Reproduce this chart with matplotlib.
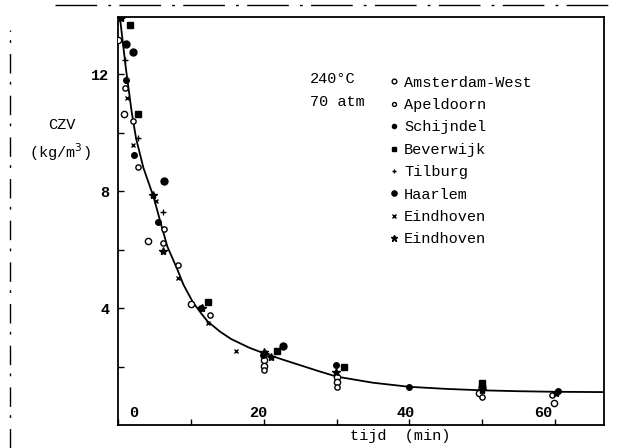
import numpy as np
import matplotlib
matplotlib.use('Agg')
from matplotlib import pyplot as plt
from matplotlib.lines import Line2D

plt.rcParams['font.family'] = ['Liberation Mono', 'DejaVu Sans Mono']

# data: tijd (min) vs CZV (kg/m3)
ams_t = [0.0, 0.8, 4.1, 10.0, 20.0, 20.0, 30.1, 30.1, 49.6, 59.9]
ams_v = [13.17, 10.65, 6.28, 4.13, 2.22, 2.01, 1.64, 1.47, 1.09, 0.75]

apel_t = [1.0, 2.05, 2.7, 6.2, 6.3, 8.2, 12.7, 20.0, 30.1, 50.0, 59.6]
apel_v = [11.54, 10.41, 8.84, 6.21, 6.69, 5.46, 3.75, 1.88, 1.30, 0.96, 1.02]

schij_t = [1.1, 2.2, 5.5, 11.4, 19.9, 29.9, 40.0, 60.4]
schij_v = [11.81, 9.22, 6.93, 3.99, 2.39, 2.05, 1.30, 1.16]

bever_t = [1.6, 2.7, 12.3, 21.8, 31.0, 49.9]
bever_v = [13.69, 10.65, 4.20, 2.52, 1.98, 1.43]

tilb_t = [1.0, 2.7, 6.2, 11.6, 20.3]
tilb_v = [12.49, 9.83, 7.30, 4.05, 2.45]

haar_t = [1.1, 2.05, 6.3, 22.7, 50.0]
haar_v = [13.04, 12.76, 8.33, 2.70, 1.30]

eind1_t = [1.2, 2.05, 5.2, 8.2, 12.3, 16.2]
eind1_v = [11.19, 9.56, 7.65, 5.02, 3.48, 2.53]

eind2_t = [0.4, 4.8, 6.2, 11.6, 20.0, 21.0, 29.9, 49.9, 60.1]
eind2_v = [13.92, 7.85, 5.94, 3.99, 2.49, 2.32, 1.81, 1.19, 1.09]

# hand drawn curve, read point by point
curve_t = [0.3, 1.1, 1.9, 2.5, 3.5, 4.9, 6.0, 6.8, 7.5, 8.2, 9.0, 10.3, 11.5, 12.3,
           14.0, 15.5, 18.0, 20.0, 22.5, 25.0, 27.5, 30.0, 35.0, 40.0, 45.0, 50.0,
           55.0, 60.0, 66.7]
curve_v = [13.9, 12.2, 10.7, 9.8, 8.8, 7.8, 6.8, 6.1, 5.7, 5.3, 4.8, 4.2, 3.8, 3.55,
           3.2, 2.95, 2.65, 2.46, 2.25, 2.05, 1.85, 1.66, 1.45, 1.31, 1.24, 1.19,
           1.16, 1.14, 1.13]

x_major = [0, 20, 40, 60]
x_labels = ['0', '20', '40', '60']
x_label_pos = [2.2, 19.3, 39.5, 58.4]

fig = plt.figure(figsize=(6.17, 4.48), dpi=100)
ax = fig.add_axes([0.191, 0.051, 0.788, 0.911])

ax.plot(curve_t, curve_v, color='black', lw=1.3, zorder=2)

k = dict(color='black', ls='none', zorder=3)
ax.plot(ams_t, ams_v, marker='o', mfc='white', mec='black', ms=4.5, mew=1, label='Amsterdam-West', **k)
ax.plot(apel_t, apel_v, marker='o', mfc='white', mec='black', ms=3.8, mew=1, label='Apeldoorn', **k)
ax.plot(schij_t, schij_v, marker='o', ms=4, label='Schijndel', **k)
ax.plot(bever_t, bever_v, marker='s', ms=4.5, label='Beverwijk', **k)
ax.plot(tilb_t, tilb_v, marker='+', ms=4, mew=1, label='Tilburg', **k)
ax.plot(haar_t, haar_v, marker='o', ms=5, label='Haarlem', **k)
ax.plot(eind1_t, eind1_v, marker='x', ms=3.5, mew=1, label='Eindhoven', **k)
ax.plot(eind2_t, eind2_v, marker='*', ms=6, label='Eindhoven', **k)

ax.legend(loc='upper left', bbox_to_anchor=(0.545, 0.875), frameon=False,
          handlelength=0.5, handletextpad=0.4, labelspacing=0.55, borderpad=0,
          markerscale=0.75, prop={'family': 'Liberation Mono', 'size': 11})

ax.text(26.4, 11.84, '240°C', fontsize=11, va='center', ha='left')
ax.text(26.4, 11.05, '70 atm', fontsize=11, va='center', ha='left')

ax.set_xlim(0, 66.7)
ax.set_ylim(0, 13.95)

ax.set_xticks(x_major)
ax.set_xticks([10, 30, 50], minor=True)
ax.set_xticklabels([])
for p, s in zip(x_label_pos, x_labels):
    ax.text(p, 0.41, s, ha='center', va='center', fontsize=11, fontweight='bold')

ax.set_yticks([4, 8, 12])
ax.set_yticks([2, 6, 10], minor=True)
ax.set_yticklabels(['4', '8', '12'], fontsize=11, fontweight='bold')
ax.tick_params(which='both', direction='in', length=4, width=1, pad=6)
ax.tick_params(axis='x', which='both', labelbottom=False)

for s in ax.spines.values():
    s.set_linewidth(1.3)

fig.text(62 / 617, 1 - 125 / 448, 'CZV', ha='center', va='center', fontsize=11)
fig.text(60 / 617, 1 - 152 / 448, '(kg/m$^3$)', ha='center', va='center', fontsize=11)
fig.text(400 / 617, 1 - 436 / 448, 'tijd  (min)', ha='center', va='center', fontsize=11)

# scan edges
fig.add_artist(Line2D([55 / 617, 1], [1 - 5 / 448] * 2, transform=fig.transFigure,
                      color='black', lw=1, ls=(0, (30, 8, 2, 6))))
fig.add_artist(Line2D([10 / 617] * 2, [0, 1 - 30 / 448], transform=fig.transFigure,
                      color='black', lw=1, ls=(0, (14, 8, 2, 6))))

plt.savefig('out.png', dpi=100)
